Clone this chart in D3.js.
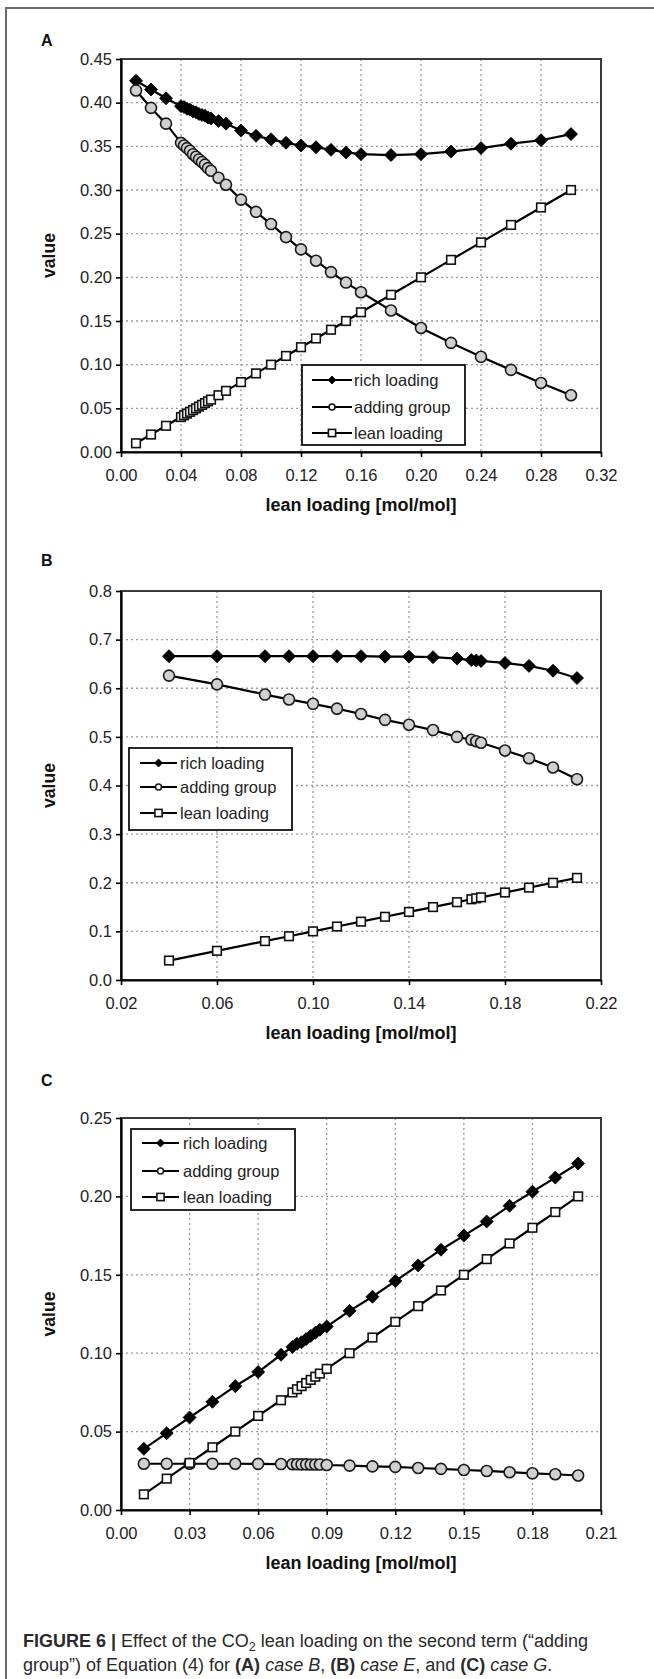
<!DOCTYPE html>
<html>
<head>
<meta charset="utf-8">
<script src="https://cdn.jsdelivr.net/npm/d3@7"></script>
<style>
html, body { margin: 0; padding: 0; background: #fff; }
svg { display: block; }
</style>
</head>
<body>
<svg id="fig" width="654" height="1679"></svg>
<script>
// ---------- Panel A: case B ----------
const xA = [0.01, 0.02, 0.03, 0.04, 0.042, 0.044, 0.046, 0.048, 0.05, 0.052, 0.054, 0.056, 0.058, 0.06, 0.065, 0.07,
            0.08, 0.09, 0.10, 0.11, 0.12, 0.13, 0.14, 0.15, 0.16, 0.18, 0.20, 0.22, 0.24, 0.26, 0.28, 0.30];
const richA = [0.425, 0.415, 0.405, 0.396, 0.395, 0.393, 0.392, 0.390, 0.389, 0.387, 0.386, 0.385, 0.383, 0.382, 0.379, 0.376,
               0.368, 0.362, 0.358, 0.354, 0.351, 0.349, 0.346, 0.343, 0.341, 0.340, 0.341, 0.344, 0.348, 0.353, 0.357, 0.364];
const addA = [0.414, 0.394, 0.376, 0.354, 0.351, 0.348, 0.345, 0.341, 0.338, 0.335, 0.332, 0.329, 0.325, 0.322, 0.314, 0.306,
              0.289, 0.275, 0.261, 0.246, 0.232, 0.219, 0.206, 0.194, 0.183, 0.162, 0.142, 0.125, 0.109, 0.094, 0.079, 0.065];
const leanA = [0.01, 0.02, 0.03, 0.04, 0.042, 0.044, 0.046, 0.048, 0.05, 0.052, 0.054, 0.056, 0.058, 0.06, 0.065, 0.07,
               0.08, 0.09, 0.10, 0.11, 0.12, 0.13, 0.14, 0.15, 0.16, 0.18, 0.20, 0.22, 0.24, 0.26, 0.28, 0.30];
const xTicksA = [0, 0.04, 0.08, 0.12, 0.16, 0.20, 0.24, 0.28, 0.32];
const yTicksA = [0, 0.05, 0.10, 0.15, 0.20, 0.25, 0.30, 0.35, 0.40, 0.45];

// ---------- Panel B: case E ----------
const xB = [0.04, 0.06, 0.08, 0.09, 0.10, 0.11, 0.12, 0.13, 0.14, 0.15, 0.16, 0.166, 0.168, 0.17, 0.18, 0.19, 0.20, 0.21];
const richB = [0.666, 0.666, 0.666, 0.666, 0.666, 0.666, 0.666, 0.665, 0.665, 0.664, 0.661, 0.658, 0.657, 0.656, 0.652, 0.646, 0.636, 0.621];
const addB = [0.626, 0.608, 0.587, 0.577, 0.568, 0.558, 0.547, 0.535, 0.525, 0.514, 0.500, 0.494, 0.491, 0.488, 0.472, 0.456, 0.437, 0.413];
const leanB = [0.04, 0.06, 0.08, 0.09, 0.10, 0.11, 0.12, 0.13, 0.14, 0.15, 0.16, 0.166, 0.168, 0.17, 0.18, 0.19, 0.20, 0.21];
const xTicksB = [0.02, 0.06, 0.10, 0.14, 0.18, 0.22];
const yTicksB = [0, 0.1, 0.2, 0.3, 0.4, 0.5, 0.6, 0.7, 0.8];

// ---------- Panel C: case G ----------
const xC = [0.01, 0.02, 0.03, 0.04, 0.05, 0.06, 0.07, 0.075, 0.077, 0.079, 0.081, 0.083, 0.085, 0.087,
            0.09, 0.10, 0.11, 0.12, 0.13, 0.14, 0.15, 0.16, 0.17, 0.18, 0.19, 0.20];
const richC = [0.039, 0.049, 0.059, 0.069, 0.079, 0.088, 0.099, 0.104, 0.106, 0.107, 0.109, 0.111, 0.113, 0.115,
               0.117, 0.127, 0.136, 0.146, 0.156, 0.166, 0.175, 0.184, 0.194, 0.203, 0.212, 0.221];
const addC = [0.0295, 0.0295, 0.0295, 0.0295, 0.0295, 0.0294, 0.0293, 0.0292, 0.0292, 0.0291, 0.0291, 0.029, 0.029, 0.029,
              0.0287, 0.0283, 0.0278, 0.0275, 0.0268, 0.0262, 0.0255, 0.0249, 0.0241, 0.0234, 0.0228, 0.0220];
const leanC = [0.01, 0.02, 0.03, 0.04, 0.05, 0.06, 0.07, 0.075, 0.077, 0.079, 0.081, 0.083, 0.085, 0.087,
               0.09, 0.10, 0.11, 0.12, 0.13, 0.14, 0.15, 0.16, 0.17, 0.18, 0.19, 0.20];
const xTicksC = [0, 0.03, 0.06, 0.09, 0.12, 0.15, 0.18, 0.21];
const yTicksC = [0, 0.05, 0.10, 0.15, 0.20, 0.25];

const seriesNames = ["rich loading", "adding group", "lean loading"];
const panelLetters = ["A", "B", "C"];
const xAxisTitle = "lean loading [mol/mol]";
const yAxisTitle = "value";

// ---------- layout ----------
const FONT = "'Liberation Sans', Arial, Helvetica, sans-serif";
const PLOT_L = 121, PLOT_R = 601;

const panels = [
  { letter: panelLetters[0], xs: xA, rich: richA, add: addA, lean: leanA,
    xTicks: xTicksA, yTicks: yTicksA, xFmt: d3.format(".2f"), yFmt: d3.format(".2f"),
    top: 59, bottom: 452, letterY: 46,
    legend: { x: 302, y: 365, w: 163, h: 80, rows: [15, 42, 68], lx0: 10, lx1: 50, tx: 52 } },
  { letter: panelLetters[1], xs: xB, rich: richB, add: addB, lean: leanB,
    xTicks: xTicksB, yTicks: yTicksB, xFmt: d3.format(".2f"), yFmt: d3.format(".1f"),
    top: 591, bottom: 980, letterY: 566,
    legend: { x: 129, y: 748, w: 163, h: 82, rows: [15, 39, 65], lx0: 11, lx1: 48, tx: 51 } },
  { letter: panelLetters[2], xs: xC, rich: richC, add: addC, lean: leanC,
    xTicks: xTicksC, yTicks: yTicksC, xFmt: d3.format(".2f"), yFmt: d3.format(".2f"),
    top: 1118, bottom: 1510, letterY: 1086,
    legend: { x: 131, y: 1129, w: 164, h: 81, rows: [14, 42, 68], lx0: 11, lx1: 48, tx: 52 } }
];

const svg = d3.select("#fig");

// page frame (top and left rules)
svg.append("path")
  .attr("d", "M6,1679 V8 H654")
  .attr("fill", "none").attr("stroke", "#6a6a6a").attr("stroke-width", 2);

// marker painters
function diamondPath(r) { return `M0,${-r}L${r},0L0,${r}L${-r},0Z`; }
function drawMarker(sel, kind, big) {
  if (kind === 0) {
    sel.append("path").attr("d", diamondPath(big ? 6.5 : 4))
      .attr("fill", "#000").attr("stroke", "#000").attr("stroke-width", 0.8);
  } else if (kind === 1) {
    sel.append("circle").attr("r", big ? 5.5 : 3)
      .attr("fill", big ? "#d0d0d0" : "#fff").attr("stroke", "#1a1a1a").attr("stroke-width", 1.6);
  } else {
    const h = big ? 4.3 : 3.6;
    sel.append("rect").attr("x", -h).attr("y", -h).attr("width", 2 * h).attr("height", 2 * h)
      .attr("fill", "#fff").attr("stroke", "#111").attr("stroke-width", 1.6);
  }
}

panels.forEach(p => {
  const g = svg.append("g");
  const x = d3.scaleLinear().domain([p.xTicks[0], p.xTicks[p.xTicks.length - 1]]).range([PLOT_L, PLOT_R]);
  const y = d3.scaleLinear().domain([p.yTicks[0], p.yTicks[p.yTicks.length - 1]]).range([p.bottom, p.top]);

  // panel letter
  g.append("text").attr("x", 41).attr("y", p.letterY)
    .attr("font-family", FONT).attr("font-weight", "bold").attr("font-size", 16).attr("fill", "#111")
    .text(p.letter);

  // dotted grid
  g.append("g").selectAll("line").data(p.xTicks.slice(1, -1)).join("line")
    .attr("x1", d => x(d)).attr("x2", d => x(d)).attr("y1", p.top).attr("y2", p.bottom)
    .attr("stroke", "#9a9a9a").attr("stroke-width", 1.3).attr("stroke-dasharray", "2,3");
  g.append("g").selectAll("line").data(p.yTicks.slice(1, -1)).join("line")
    .attr("x1", PLOT_L).attr("x2", PLOT_R).attr("y1", d => y(d)).attr("y2", d => y(d))
    .attr("stroke", "#9a9a9a").attr("stroke-width", 1.3).attr("stroke-dasharray", "2,3");

  // plot-area border
  g.append("rect").attr("x", PLOT_L).attr("y", p.top)
    .attr("width", PLOT_R - PLOT_L).attr("height", p.bottom - p.top)
    .attr("fill", "none").attr("stroke", "#3a3a3a").attr("stroke-width", 2);

  // axes
  const xAxis = g.append("g").attr("transform", `translate(0,${p.bottom})`)
    .call(d3.axisBottom(x).tickValues(p.xTicks).tickFormat(p.xFmt).tickSize(5).tickSizeOuter(0).tickPadding(12));
  const yAxis = g.append("g").attr("transform", `translate(${PLOT_L},0)`)
    .call(d3.axisLeft(y).tickValues(p.yTicks).tickFormat(p.yFmt).tickSize(5).tickSizeOuter(0).tickPadding(4));
  [xAxis, yAxis].forEach(a => {
    a.select(".domain").attr("stroke", "#000").attr("stroke-width", 2.2);
    a.selectAll(".tick line").attr("stroke", "#000").attr("stroke-width", 1.6);
    a.selectAll(".tick text").attr("font-family", FONT).attr("font-size", 16.5).attr("fill", "#222");
  });

  // axis titles
  g.append("text").attr("x", (PLOT_L + PLOT_R) / 2).attr("y", p.bottom + 59)
    .attr("text-anchor", "middle").attr("font-family", FONT).attr("font-weight", "bold")
    .attr("font-size", 18).attr("fill", "#111").text(xAxisTitle);
  g.append("text")
    .attr("transform", `translate(55,${(p.top + p.bottom) / 2}) rotate(-90)`)
    .attr("text-anchor", "middle").attr("font-family", FONT).attr("font-weight", "bold")
    .attr("font-size", 17.5).attr("fill", "#111").text(yAxisTitle);

  // series: lines, then markers
  const series = [p.rich, p.add, p.lean];
  series.forEach((vals, k) => {
    const line = d3.line().x((d, i) => x(p.xs[i])).y(d => y(d));
    g.append("path").datum(vals).attr("d", line)
      .attr("fill", "none").attr("stroke", "#000").attr("stroke-width", 2.2);
    const m = g.append("g").selectAll("g").data(vals).join("g")
      .attr("transform", (d, i) => `translate(${x(p.xs[i])},${y(d)})`);
    drawMarker(m, k, true);
  });

  // legend
  const lg = g.append("g").attr("transform", `translate(${p.legend.x},${p.legend.y})`);
  lg.append("rect").attr("width", p.legend.w).attr("height", p.legend.h)
    .attr("fill", "#fff").attr("stroke", "#111").attr("stroke-width", 1.8);
  seriesNames.forEach((name, k) => {
    const ry = p.legend.rows[k];
    lg.append("line").attr("x1", p.legend.lx0).attr("x2", p.legend.lx1).attr("y1", ry).attr("y2", ry)
      .attr("stroke", "#000").attr("stroke-width", 2.2);
    const mk = lg.append("g").attr("transform", `translate(${(p.legend.lx0 + p.legend.lx1) / 2},${ry})`);
    drawMarker(mk, k, false);
    lg.append("text").attr("x", p.legend.tx).attr("y", ry).attr("dy", "0.35em")
      .attr("font-family", FONT).attr("font-size", 16.5).attr("fill", "#222").text(name);
  });
});

// caption
const cap = svg.append("g").attr("font-family", FONT).attr("font-size", 18).attr("fill", "#2a2a2a");
const l1 = cap.append("text").attr("x", 23).attr("y", 1647);
l1.append("tspan").attr("font-weight", "bold").text("FIGURE 6 | ");
l1.append("tspan").text("Effect of the CO");
l1.append("tspan").attr("font-size", 12.5).attr("dy", 4).text("2");
l1.append("tspan").attr("dy", -4).text(" lean loading on the second term (\u201Cadding");
const l2 = cap.append("text").attr("x", 23).attr("y", 1671);
l2.append("tspan").text("group\u201D) of Equation (4) for ");
l2.append("tspan").attr("font-weight", "bold").text("(A)");
l2.append("tspan").text(" ");
l2.append("tspan").attr("font-style", "italic").text("case B");
l2.append("tspan").text(", ");
l2.append("tspan").attr("font-weight", "bold").text("(B)");
l2.append("tspan").text(" ");
l2.append("tspan").attr("font-style", "italic").text("case E");
l2.append("tspan").text(", and ");
l2.append("tspan").attr("font-weight", "bold").text("(C)");
l2.append("tspan").text(" ");
l2.append("tspan").attr("font-style", "italic").text("case G");
l2.append("tspan").text(".");
</script>
</body>
</html>
